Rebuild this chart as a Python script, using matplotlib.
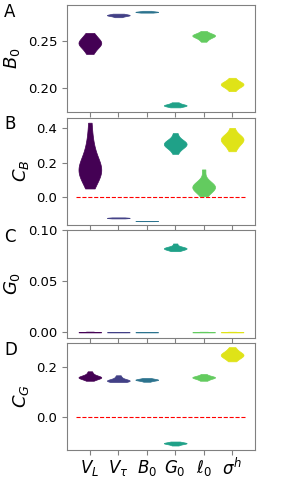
import numpy as np
import matplotlib
matplotlib.use('Agg')
import matplotlib.pyplot as plt

# parametros (eje x)
etiquetas = [r'$V_L$', r'$V_\tau$', r'$B_0$', r'$G_0$', r'$\ell_0$', r'$\sigma^h$']

# muestras, una lista por parametro
B0_muestras = [
    [0.236, 0.240, 0.243, 0.245, 0.2465, 0.2475, 0.2485, 0.250, 0.252, 0.255, 0.258],
    [0.2745, 0.2758, 0.2763, 0.2766, 0.2769, 0.2774, 0.2782],
    [0.2793, 0.2798, 0.2800, 0.2802, 0.2805, 0.2812],
    [0.1800, 0.1812, 0.1817, 0.1820, 0.1823, 0.1828, 0.1838, 0.1853],
    [0.2488, 0.251, 0.2525, 0.2535, 0.2545, 0.255, 0.2553, 0.2556, 0.256, 0.2567, 0.2578, 0.2600],
    [0.197, 0.200, 0.202, 0.203, 0.204, 0.2045, 0.205, 0.206, 0.208, 0.211],
]
CB_muestras = [
    [0.05, 0.09, 0.11, 0.13, 0.14, 0.15, 0.16, 0.17, 0.18, 0.20, 0.22, 0.25, 0.29, 0.34, 0.43],
    [-0.123, -0.121, -0.120, -0.119, -0.117],
    [-0.139, -0.1382, -0.1378, -0.1372],
    [0.25, 0.28, 0.29, 0.30, 0.305, 0.31, 0.315, 0.32, 0.335, 0.37],
    [0.005, 0.03, 0.04, 0.05, 0.055, 0.06, 0.065, 0.07, 0.08, 0.10, 0.16],
    [0.265, 0.29, 0.31, 0.32, 0.33, 0.335, 0.34, 0.35, 0.36, 0.40],
]
G0_muestras = [
    [0.0, 0.0001, 0.0002, 0.0003, 0.0008],
    [0.0, 0.0001, 0.0002, 0.0003],
    [0.0, 0.0001, 0.0002, 0.0003],
    [0.0795, 0.081, 0.0815, 0.082, 0.0823, 0.0826, 0.083, 0.084, 0.087],
    [0.0, 0.0001, 0.0002, 0.0003, 0.0007],
    [0.0, 0.0001, 0.0002, 0.0003, 0.0007],
]
CG_muestras = [
    [0.146, 0.152, 0.155, 0.157, 0.159, 0.160, 0.161, 0.162, 0.164, 0.168, 0.175, 0.184],
    [0.141, 0.143, 0.145, 0.146, 0.147, 0.148, 0.150, 0.154, 0.160, 0.168],
    [0.142, 0.146, 0.148, 0.149, 0.150, 0.151, 0.152, 0.154, 0.157],
    [-0.114, -0.110, -0.107, -0.106, -0.105, -0.104, -0.103, -0.101, -0.098],
    [0.146, 0.151, 0.155, 0.158, 0.159, 0.160, 0.161, 0.163, 0.166, 0.173],
    [0.224, 0.233, 0.240, 0.245, 0.248, 0.250, 0.252, 0.256, 0.262, 0.270, 0.281],
]

paneles = [
    ('A', r'$B_0$', B0_muestras, (0.175, 0.2875), [0.20, 0.25], False),
    ('B', r'$C_B$', CB_muestras, (-0.16, 0.46), [0.0, 0.2, 0.4], True),
    ('C', r'$G_0$', G0_muestras, (-0.005, 0.1), [0.00, 0.05, 0.10], False),
    ('D', r'$C_G$', CG_muestras, (-0.133, 0.298), [0.0, 0.2], True),
]

colores = plt.cm.viridis(np.linspace(0, 0.95, 6))
gris = '#808080'

fig, axes = plt.subplots(4, 1, figsize=(2.88, 4.8), dpi=100, sharex=True)
fig.subplots_adjust(left=0.233, right=0.885, top=0.99, bottom=0.062, hspace=0.05)

pos = np.arange(len(etiquetas))
for ax, (letra, ylab, datos, ylim, yticks, linea) in zip(axes, paneles):
    partes = ax.violinplot(datos, positions=pos, widths=0.8, showextrema=False)
    for cuerpo, c in zip(partes['bodies'], colores):
        cuerpo.set_facecolor(c)
        cuerpo.set_edgecolor(c)
        cuerpo.set_linewidth(0.5)
        cuerpo.set_alpha(1)
    if linea:
        ax.hlines(0, -0.5, 5.5, colors='red', linestyles='--', linewidth=0.8)
    ax.set_ylim(*ylim)
    ax.set_yticks(yticks)
    ax.set_xlim(-0.8, 5.8)
    ax.set_ylabel(ylab, fontsize=13)
    ax.tick_params(labelsize=9.5, color=gris)
    for s in ax.spines.values():
        s.set_color(gris)
    ax.text(-0.335, 0.935, letra, transform=ax.transAxes, fontsize=12,
            ha='left', va='center')

axes[-1].set_xticks(pos)
axes[-1].set_xticklabels(etiquetas, fontsize=12)
axes[-1].tick_params(axis='x', pad=2)

plt.savefig('out.png', dpi=100)
